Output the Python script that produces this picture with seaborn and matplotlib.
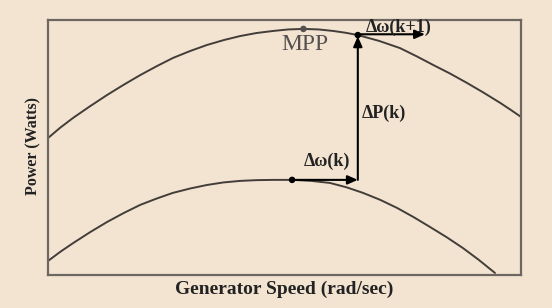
import matplotlib
matplotlib.use("Agg")
import matplotlib.pyplot as plt
import seaborn as sns
import pandas as pd

# Lower power curve (before speed step)
low_speed = [0, 2.6, 5.3, 8.9, 12.5, 16.0, 19.5, 23.0, 26.4, 30.0, 33.6, 37.1, 40.6, 44.1, 47.6,
             51.8, 55.7, 59.6, 63.1, 66.6, 70.2, 73.8, 77.3, 80.8, 84.3, 87.7, 91.1, 94.5]
low_power = [5.5, 9.1, 12.5, 16.8, 20.8, 24.3, 27.5, 30.0, 32.2, 33.9, 35.3, 36.3, 36.9, 37.2, 37.3,
             37.3, 36.9, 36.1, 34.4, 32.2, 29.5, 26.3, 22.7, 18.8, 14.8, 10.6, 5.9, 0.8]
# Upper power curve
up_speed = [0, 2.6, 5.3, 8.9, 12.5, 16.0, 19.5, 23.0, 26.4, 30.0, 33.6, 37.1, 40.6, 44.1, 47.6,
            50.8, 54.0, 57.2, 60.3, 62.9, 65.5, 70.0, 74.4, 77.9, 81.4, 85.0, 88.6, 92.1, 95.6, 97.8, 100]
up_power = [53.7, 57.8, 61.6, 66.2, 70.6, 74.6, 78.4, 81.9, 85.1, 87.8, 90.2, 92.1, 93.7, 94.9, 95.7,
            96.3, 96.5, 96.3, 95.7, 95.0, 94.1, 91.8, 89.0, 85.8, 82.4, 79.0, 75.3, 71.5, 67.5, 64.8, 62.0]

mpp = (54.0, 96.5)
op_k = (51.6, 37.3)
op_k1 = (65.5, 37.3)
op_up = (65.5, 94.1)
dw_k1_end = 79.7

BG = "#F3E4D2"
sns.set_theme(style="white")
plt.rcParams["font.family"] = ["Liberation Serif", "DejaVu Serif"]

fig = plt.figure(figsize=(5.52, 3.08), dpi=100, facecolor=BG)
ax = fig.add_axes([48/552, 1-275/308, 473/552, 255/308])
ax.set_facecolor(BG)

low = pd.DataFrame({"speed": low_speed, "power": low_power})
up = pd.DataFrame({"speed": up_speed, "power": up_power})
sns.lineplot(data=low, x="speed", y="power", ax=ax, color="#433d39", lw=1.4, sort=False)
sns.lineplot(data=up, x="speed", y="power", ax=ax, color="#433d39", lw=1.4, sort=False)

ax.set_xlim(0, 100)
ax.set_ylim(0, 100)
ax.set_xticks([])
ax.set_yticks([])
for s in ax.spines.values():
    s.set_color("#6e6660")
    s.set_linewidth(1.6)

# arrows
arrow_kw = dict(arrowstyle="-|>,head_length=0.5,head_width=0.22", color="black", lw=1.5, shrinkA=0, shrinkB=0)
ax.annotate("", xy=op_k1, xytext=op_k, arrowprops=arrow_kw)
ax.annotate("", xy=(op_up[0], op_up[1] - 0.5), xytext=op_k1, arrowprops=arrow_kw)
ax.annotate("", xy=(dw_k1_end, op_up[1] + 0.3), xytext=(op_up[0], op_up[1] + 0.3), arrowprops=arrow_kw)

pts = pd.DataFrame({"speed": [op_k[0], op_up[0]], "power": [op_k[1], op_up[1]]})
sns.scatterplot(data=pts, x="speed", y="power", ax=ax, color="black", s=22, edgecolor="none", zorder=5)
sns.scatterplot(x=[mpp[0]], y=[mpp[1]], ax=ax, color="#555050", s=22, edgecolor="none", zorder=5)
ax.set_xlabel("")
ax.set_ylabel("")

ax.text(mpp[0] + 0.4, mpp[1] - 2.0, "MPP", ha="center", va="top", fontsize=17, color="#555050")
ax.text(58.9, 41.0, "Δω(k)", ha="center", va="bottom", fontsize=13, fontweight="bold", color="#222")
ax.text(74.1, 93.8, "Δω(k+1)", ha="center", va="bottom", fontsize=13, fontweight="bold", color="#222")
ax.text(66.3, 63.5, "ΔP(k)", ha="left", va="center", fontsize=13, fontweight="bold", color="#222")

fig.text(284/552, 1-289/308, "Generator Speed (rad/sec)", ha="center", va="center", fontsize=14, fontweight="bold", color="#222")
fig.text(33/552, 1-146/308, "Power (Watts)", ha="center", va="center", rotation=90, fontsize=11.5, fontweight="bold", color="#222")

fig.savefig("out.png", dpi=100, facecolor=BG)
